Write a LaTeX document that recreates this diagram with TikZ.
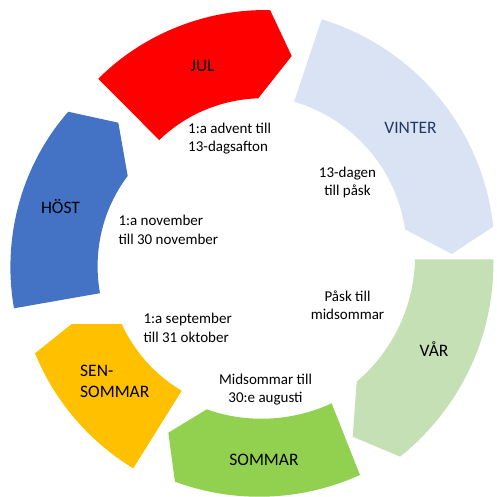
\documentclass[tikz,border=0pt]{standalone}
\usepackage{fontspec}
\setmainfont{Carlito}
\definecolor{cjul}{HTML}{FF0000}
\definecolor{cwinter}{HTML}{DAE3F3}
\definecolor{cwintertext}{HTML}{203864}
\definecolor{cvar}{HTML}{C5E0B4}
\definecolor{csommar}{HTML}{92D050}
\definecolor{csen}{HTML}{FFC000}
\definecolor{chost}{HTML}{4472C4}
% ring arc around the common centre (251,253): start angle, start radius, end angle, end radius
\newcommand\rarcto[4]{-- plot[variable=\t,domain=#1:#3,samples=45] ({251+((#2)+((\t)-(#1))/((#3)-(#1))*((#4)-(#2)))*cos(\t)},{253-((#2)+((\t)-(#1))/((#3)-(#1))*((#4)-(#2)))*sin(\t)})}
\begin{document}
\begin{tikzpicture}[x=1pt,y=-1pt,
  lbl/.style={font=\fontsize{17.5}{21.3}\selectfont, inner sep=0pt},
  txt/.style={font=\fontsize{15}{18.3}\selectfont, inner sep=0pt}]
\useasboundingbox (0,0) rectangle (496,497);
% segments
\fill[cjul]    (98.3,78.8) \rarcto{131.3}{231.7}{85.5}{243.7} -- (291.7,56) \rarcto{87.3}{154.9}{129.1}{145.5} -- cycle;
\fill[cwinter] (321.7,19.3) \rarcto{73.1}{244.2}{6.2}{243.7} -- (451.7,254) \rarcto{8.75}{155.8}{74.1}{157.3} -- cycle;
\fill[cvar]    (493.3,259.3) \rarcto{-1.5}{242.4}{-53.8}{252.4} -- (352.7,436.7) \rarcto{-50.6}{166.5}{-2.2}{164.1} -- cycle;
\fill[csommar] (360,475) \rarcto{-63.85}{247.3}{-108.4}{241} -- (168.3,432.7) \rarcto{-105.8}{162.5}{-61.8}{170.6} -- cycle;
\fill[csen]    (133.3,468.3) \rarcto{-118.7}{245.4}{-155.1}{238.1} -- (71.7,324) \rarcto{-151.2}{147.5}{-116.7}{154.2} -- cycle;
\fill[chost]   (14,308.3) \rarcto{193.1}{243.4}{142.3}{231} -- (118.3,122.7) \rarcto{148}{145.4}{194.9}{156.3} -- cycle;
% labels
\node[lbl, anchor=base] (jul) at (202.5,71.1) {JUL};
\node[lbl, anchor=base, text=cwintertext] (vinter) at (410.5,133.1) {VINTER};
\node[lbl, anchor=base] (var) at (434,356.5) {VÅR};
\node[lbl, anchor=base] (sommar) at (264,465) {SOMMAR};
\node[lbl, anchor=base west] (sen1) at (80,376) {SEN-};
\node[lbl, anchor=base west] (sen2) at (80,397.3) {SOMMAR};
\node[lbl, anchor=base] (host) at (60.5,213.3) {HÖST};
% inner texts
\node[txt, anchor=base west] (t1a) at (188,134) {1:a advent till};
\node[txt, anchor=base west] (t1b) at (188,152) {13-dagsafton};
\node[txt, anchor=base] (t2a) at (347.5,177) {13-dagen};
\node[txt, anchor=base] (t2b) at (347.5,195) {till påsk};
\node[txt, anchor=base west] (t3a) at (118.3,225.7) {1:a november};
\node[txt, anchor=base west] (t3b) at (118.3,244.3) {till 30 november};
\node[txt, anchor=base] (t4a) at (347.5,301.7) {Påsk till};
\node[txt, anchor=base] (t4b) at (347.5,319.3) {midsommar};
\node[txt, anchor=base west] (t5a) at (143.3,323.3) {1:a september};
\node[txt, anchor=base west] (t5b) at (143.3,342.3) {till 31 oktober};
\node[txt, anchor=base] (t6a) at (265.5,384) {Midsommar till};
\node[txt, anchor=base] (t6b) at (265.5,402.3) {30:e augusti};
\end{tikzpicture}
\end{document}
